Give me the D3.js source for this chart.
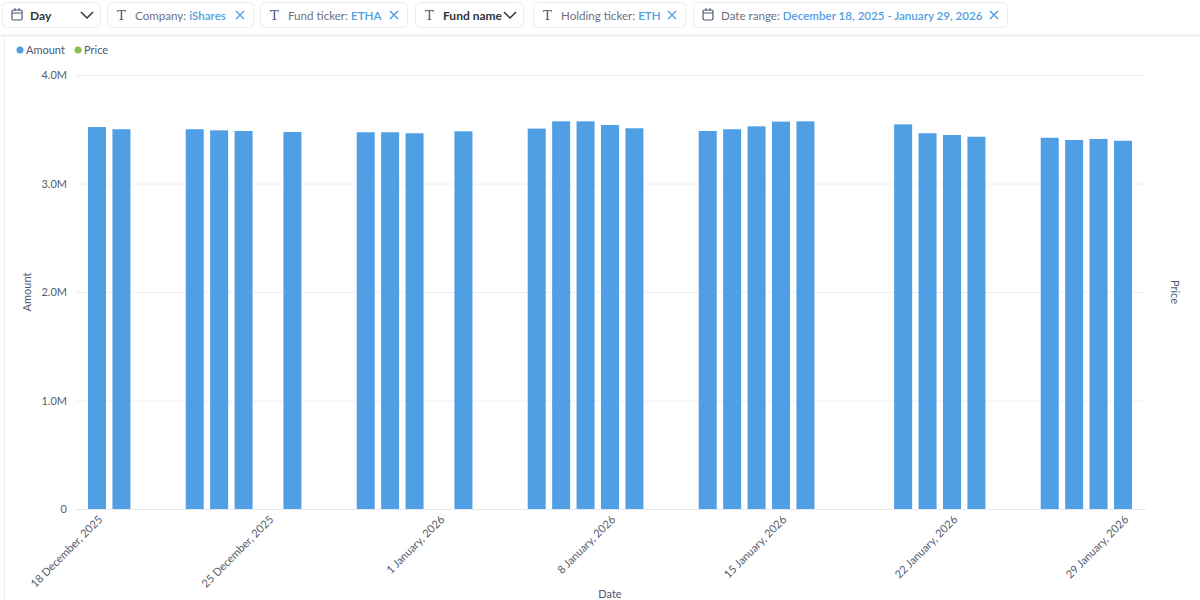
<!DOCTYPE html>
<html>
<head>
<meta charset="utf-8">
<script src="https://cdn.jsdelivr.net/npm/d3@7"></script>
<style>
  body { margin: 0; background: #fff; font-family: Lato, "Noto Sans", sans-serif; }
  svg { display: block; }
</style>
</head>
<body>
<svg id="chart" width="1200" height="600"></svg>
<script>
// data (amount in millions)
var dates = [
    "2025-12-18", "2025-12-19",
    "2025-12-22", "2025-12-23", "2025-12-24", "2025-12-26",
    "2025-12-29", "2025-12-30", "2025-12-31", "2026-01-02",
    "2026-01-05", "2026-01-06", "2026-01-07", "2026-01-08", "2026-01-09",
    "2026-01-12", "2026-01-13", "2026-01-14", "2026-01-15", "2026-01-16",
    "2026-01-20", "2026-01-21", "2026-01-22", "2026-01-23",
    "2026-01-26", "2026-01-27", "2026-01-28", "2026-01-29"
];
var amounts = [
    3.52, 3.50,
    3.50, 3.49, 3.484, 3.475,
    3.472, 3.472, 3.463, 3.481,
    3.506, 3.573, 3.573, 3.539, 3.509,
    3.484, 3.50, 3.527, 3.570, 3.573,
    3.545, 3.463, 3.447, 3.431,
    3.422, 3.401, 3.410, 3.394
];
var yTicks = [0, 1, 2, 3, 4];
var xTickDates = ["2025-12-18", "2025-12-25", "2026-01-01", "2026-01-08", "2026-01-15", "2026-01-22", "2026-01-29"];

// filter pills on top
var pills = [
    { icon: "cal", label: "Day", value: "", bold: true, end: "chev" },
    { icon: "T", label: "Company: ", value: "iShares", end: "x" },
    { icon: "T", label: "Fund ticker: ", value: "ETHA", end: "x" },
    { icon: "T", label: "Fund name", value: "", bold: true, end: "chev" },
    { icon: "T", label: "Holding ticker: ", value: "ETH", end: "x" },
    { icon: "cal", label: "Date range: ", value: "December 18, 2025 - January 29, 2026", end: "x" }
];
var pillX = [2, 107, 260, 415, 533, 693];
var pillW = [98, 146, 147, 108, 152, 314];

var blue = "#509EE3", green = "#88BF4D", textGray = "#565C6B";
var parse = d3.timeParse("%Y-%m-%d");
var data = dates.map(function (d, i) { return { date: parse(d), amount: amounts[i] }; });

var svg = d3.select("#chart");

// top filter bar
svg.append("rect").attr("x", 0).attr("y", 0).attr("width", 1200).attr("height", 35).attr("fill", "#fff");
svg.append("line").attr("x1", 0).attr("x2", 1200).attr("y1", 35.5).attr("y2", 35.5)
    .attr("stroke", "#EEF0F3").attr("stroke-width", 2);
// card border
svg.append("line").attr("x1", 4.5).attr("x2", 4.5).attr("y1", 36).attr("y2", 600).attr("stroke", "#EEF0F3");

pills.forEach(function (p, i) {
    var g = svg.append("g").attr("transform", "translate(" + pillX[i] + ",2)");
    g.append("rect").attr("x", 0.5).attr("y", 0.5).attr("width", pillW[i]).attr("height", 25)
        .attr("rx", 5).attr("fill", "#fff").attr("stroke", "#E9ECEF");
    if (p.icon === "cal") {
        g.append("rect").attr("x", 10).attr("y", 8).attr("width", 10).attr("height", 10).attr("rx", 1.5)
            .attr("fill", "none").attr("stroke", "#4C5773").attr("stroke-width", 1.2);
        g.append("line").attr("x1", 10).attr("x2", 20).attr("y1", 11).attr("y2", 11).attr("stroke", "#4C5773");
        g.append("line").attr("x1", 13).attr("x2", 13).attr("y1", 6).attr("y2", 9).attr("stroke", "#4C5773");
        g.append("line").attr("x1", 17).attr("x2", 17).attr("y1", 6).attr("y2", 9).attr("stroke", "#4C5773");
    } else {
        g.append("text").attr("x", 10).attr("y", 18).attr("font-family", "'DejaVu Serif', serif")
            .attr("font-size", 13).attr("fill", "#4C5773").text("T");
    }
    var t = g.append("text").attr("x", 28).attr("y", 17.5).attr("font-size", p.bold ? 12 : 11.6);
    t.append("tspan").attr("fill", p.bold ? "#2E353B" : "#6B7181")
        .attr("font-weight", p.bold ? 700 : 400).text(p.label);
    if (p.value) t.append("tspan").attr("fill", blue).attr("font-weight", 600).text(p.value);
    var ex = pillW[i] - 13;
    if (p.end === "x") {
        g.append("path").attr("d", "M" + (ex - 4) + ",9L" + (ex + 4) + ",17M" + (ex + 4) + ",9L" + (ex - 4) + ",17")
            .attr("stroke", blue).attr("stroke-width", 1.4).attr("fill", "none");
    } else {
        g.append("path").attr("d", "M" + (ex - 6) + ",10L" + ex + ",16L" + (ex + 6) + ",10")
            .attr("stroke", "#2E353B").attr("stroke-width", 1.5).attr("fill", "none");
    }
});

// legend
var legend = [{ name: "Amount", color: blue, x: 20 }, { name: "Price", color: green, x: 78 }];
legend.forEach(function (l) {
    svg.append("circle").attr("cx", l.x).attr("cy", 50).attr("r", 3.5).attr("fill", l.color);
    svg.append("text").attr("x", l.x + 6).attr("y", 54).attr("font-size", 11)
        .attr("fill", "#4C5773").text(l.name);
});

// scales
var plotLeft = 76, plotRight = 1146;
var x = d3.scaleTime()
    .domain([parse("2025-12-18"), parse("2026-01-29")])
    .range([97, 1123]);
var y = d3.scaleLinear().domain([0, 4]).range([509, 75]);

// gridlines + y labels
var yAxis = svg.append("g").attr("transform", "translate(" + plotLeft + ",0)")
    .call(d3.axisLeft(y).tickValues(yTicks).tickSize(-(plotRight - plotLeft))
        .tickFormat(function (d) { return d === 0 ? "0" : d.toFixed(1) + "M"; }));
yAxis.select(".domain").remove();
yAxis.selectAll(".tick line").attr("stroke", "#EDF0F3");
yAxis.selectAll(".tick text").attr("x", -9).attr("font-family", "Lato, sans-serif")
    .attr("font-size", 11).attr("fill", textGray);

// bars
svg.append("g").selectAll("rect")
    .data(data)
    .enter()
    .append("rect")
    .attr("x", function (d) { return x(d.date) - 9; })
    .attr("y", function (d) { return y(d.amount); })
    .attr("width", 18)
    .attr("height", function (d) { return y(0) - y(d.amount); })
    .attr("fill", blue);

// x axis
var xAxis = svg.append("g").attr("transform", "translate(0,509)")
    .call(d3.axisBottom(x).tickValues(xTickDates.map(parse)).tickSize(0)
        .tickFormat(d3.timeFormat("%-d %B, %Y")));
xAxis.select(".domain").attr("d", "M" + plotLeft + ",0.5H" + plotRight).attr("stroke", "#E3E7EB");
xAxis.selectAll(".tick text")
    .attr("font-family", "Lato, sans-serif").attr("font-size", 11).attr("fill", textGray)
    .style("text-anchor", "end")
    .attr("dx", "-4px").attr("dy", "9px")
    .attr("transform", "rotate(-45)");

// axis titles
svg.append("text").attr("transform", "translate(31,292) rotate(-90)")
    .attr("text-anchor", "middle").attr("font-size", 11).attr("fill", "#4C5773").text("Amount");
svg.append("text").attr("transform", "translate(1171,292) rotate(90)")
    .attr("text-anchor", "middle").attr("font-size", 11).attr("fill", "#4C5773").text("Price");
svg.append("text").attr("x", 610).attr("y", 598)
    .attr("text-anchor", "middle").attr("font-size", 11).attr("fill", "#4C5773").text("Date");
</script>
</body>
</html>
